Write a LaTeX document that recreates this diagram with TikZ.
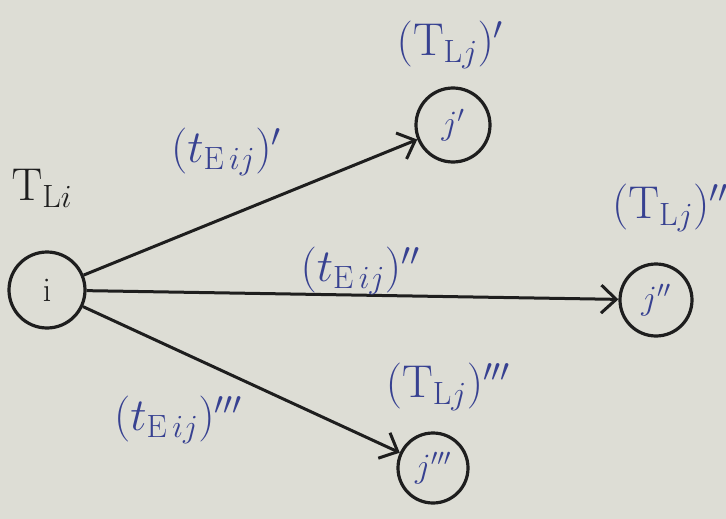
\RequirePackage{fix-cm}
\documentclass[tikz,border=0pt]{standalone}
\usetikzlibrary{arrows.meta}
\definecolor{paper}{RGB}{221,221,213}
\definecolor{ink}{RGB}{30,30,30}
\definecolor{penblue}{RGB}{55,65,145}
\tikzset{
  event/.style={circle,draw=ink,line width=3.2pt,minimum size=74pt,inner sep=0pt,
    text=penblue,font=\fontsize{34}{40}\selectfont},
  arc/.style={draw=ink,line width=3pt,-{Straight Barb[length=15pt,width=28pt,line width=3pt]}},
  lab/.style={text=penblue,font=\fontsize{46}{54}\selectfont,inner sep=0pt},
}
\begin{document}
\begin{tikzpicture}[x=1pt,y=-1pt]
\useasboundingbox (0,0) rectangle (726,519);
\fill[paper] (0,0) rectangle (726,519);
\node[event,text=ink,minimum size=76pt] (i) at (47,290) {$\mathrm{i}$};
\node[event] (j1) at (453,125) {$j'$};
\node[event,minimum size=72pt] (j2) at (656,300) {$j''$};
\node[event,minimum size=70pt] (j3) at (433,468) {$j'''$};
\node[lab,text=ink] (tli) at (42,188) {$\mathrm{T}_{\mathrm{L}i}$};
\node[lab] (tlj1) at (450,45) {$(\mathrm{T}_{\mathrm{L}j})'$};
\node[lab,anchor=west] (tlj2) at (612,208) {$(\mathrm{T}_{\mathrm{L}j})''$};
\node[lab] (tlj3) at (448,387) {$(\mathrm{T}_{\mathrm{L}j})'''$};
\draw[arc] (i) -- (j1);
\draw[arc] (i) -- (j2);
\draw[arc] (i) -- (j3);
\node[lab] (te1) at (226,152) {$(t_{\mathrm{E}\,ij})'$};
\node[lab] (te2) at (360,271) {$(t_{\mathrm{E}\,ij})''$};
\node[lab] (te3) at (178,420) {$(t_{\mathrm{E}\,ij})'''$};
\end{tikzpicture}
\end{document}
